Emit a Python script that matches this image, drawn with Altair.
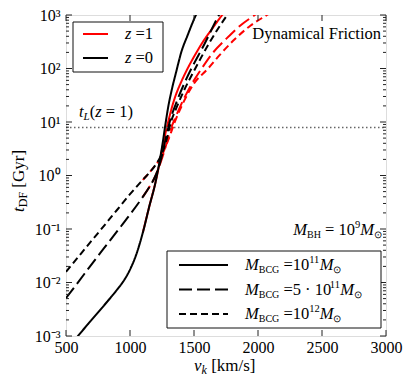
import altair as alt
import pandas as pd

# ---------------- data ----------------
# z = 0 (black)
v_z0_1e11 = [560, 594, 700, 800, 900, 950, 1000, 1050, 1100, 1150, 1200, 1230, 1260, 1275, 1300, 1330, 1360, 1400, 1450, 1515, 1540]
t_z0_1e11 = [7.9e-4, 1.0e-3, 2.0e-3, 3.8e-3, 7.4e-3, 1.07e-2, 1.74e-2, 3.39e-2, 8.5e-2, 0.26, 0.76, 1.78, 4.8, 8.5, 20, 43.7, 85, 200, 417, 1000, 1320]

v_z0_5e11 = [500, 600, 700, 800, 900, 1000, 1100, 1150, 1200, 1240, 1280, 1310, 1360, 1420, 1480, 1580, 1695, 1730]
t_z0_5e11 = [5.1e-3, 1.05e-2, 2.19e-2, 4.47e-2, 9.1e-2, 0.186, 0.398, 0.603, 1.0, 1.9, 5.0, 10, 22.4, 50, 100, 282, 1000, 1413]

v_z0_1e12 = [500, 600, 700, 800, 900, 1000, 1100, 1150, 1200, 1240, 1280, 1320, 1360, 1420, 1510, 1620, 1760, 1800]
t_z0_1e12 = [1.58e-2, 3.09e-2, 6.03e-2, 0.117, 0.229, 0.447, 0.83, 1.12, 1.58, 2.29, 4.17, 10, 17.8, 38, 100, 302, 1000, 1349]

# z = 1 (red)
v_z1_1e11 = [1100, 1150, 1200, 1230, 1260, 1300, 1350, 1400, 1450, 1500, 1570, 1650, 1720, 1760]
t_z1_1e11 = [0.085, 0.26, 0.76, 1.66, 3.98, 10.5, 28.2, 56.2, 100, 166, 316, 589, 1000, 1318]

v_z1_5e11 = [1100, 1150, 1200, 1240, 1280, 1320, 1340, 1400, 1480, 1560, 1650, 1750, 1860, 1975, 2010]
t_z1_5e11 = [0.398, 0.603, 1.0, 1.78, 3.55, 7.59, 10, 21.4, 50.1, 100, 200, 355, 631, 1000, 1148]

v_z1_1e12 = [1100, 1150, 1200, 1240, 1280, 1320, 1350, 1420, 1500, 1610, 1700, 1820, 1940, 2070, 2110]
t_z1_1e12 = [0.83, 1.12, 1.58, 2.14, 3.55, 6.31, 10, 24, 52.5, 100, 178, 355, 631, 1000, 1148]

t_lookback = 7.9  # t_L(z=1) in Gyr

x_ticks = [500, 1000, 1500, 2000, 2500, 3000]
y_ticks = [1e-3, 1e-2, 1e-1, 1e0, 1e1, 1e2, 1e3]
y_minor = [m * 10.0 ** k for k in range(-3, 3) for m in range(2, 10)]

# ---------------- layout ----------------
W, H = 320, 321
FONT = "Liberation Serif"
RED, BLACK = "#ff0000", "#000000"
DASH = {"1e11": [1, 0], "5e11": [13, 5], "1e12": [7, 4]}

xscale = alt.Scale(domain=[500, 3000], nice=False, zero=False)
yscale = alt.Scale(type="log", domain=[1e-3, 1e3], nice=False)
xaxis = alt.Axis(values=x_ticks, title=None, grid=False, ticks=False, domain=False, format="d",
                 labelFont=FONT, labelFontSize=16, labelColor="black", labelPadding=3,
                 labelFlush=False)
yaxis = alt.Axis(values=y_ticks, title=None, grid=False, ticks=False, domain=False,
                 labelFont=FONT, labelFontSize=16, labelColor="black", labelPadding=6,
                 labelFlush=False,
                 labelExpr="datum.value > 500 ? '10³' : datum.value > 50 ? '10²' : datum.value > 5 ? '10¹' : "
                           "datum.value > 0.5 ? '10⁰' : datum.value > 0.05 ? '10⁻¹' : datum.value > 0.005 ? '10⁻²' : '10⁻³'")

X = lambda f: alt.X(f, type="quantitative", scale=xscale, axis=xaxis)
Y = lambda f: alt.Y(f, type="quantitative", scale=yscale, axis=yaxis)

def curve(v, t, color, dash):
    df = pd.DataFrame({"v": v, "t": t})
    return alt.Chart(df).mark_line(color=color, strokeWidth=2, strokeDash=dash, clip=True,
                                   interpolate="monotone").encode(x=X("v"), y=Y("t"))

layers = []
# red first, black on top
layers += [curve(v_z1_1e11, t_z1_1e11, RED, DASH["1e11"]),
           curve(v_z1_5e11, t_z1_5e11, RED, DASH["5e11"]),
           curve(v_z1_1e12, t_z1_1e12, RED, DASH["1e12"]),
           curve(v_z0_1e11, t_z0_1e11, BLACK, DASH["1e11"]),
           curve(v_z0_5e11, t_z0_5e11, BLACK, DASH["5e11"]),
           curve(v_z0_1e12, t_z0_1e12, BLACK, DASH["1e12"])]

# lookback-time line
layers.append(alt.Chart(pd.DataFrame({"t": [t_lookback]})).mark_rule(
    color="#666", strokeWidth=1.3, strokeDash=[1.5, 2.5]).encode(
    y=Y("t"), x=alt.value(0), x2=alt.value(W)))

# inward ticks
xt = pd.DataFrame({"v": x_ticks})
yt = pd.DataFrame({"t": y_ticks})
ym = pd.DataFrame({"t": y_minor})
tick_style = dict(color="#222", strokeWidth=1)
layers += [
    alt.Chart(xt).mark_rule(**tick_style).encode(x=X("v"), y=alt.value(H), y2=alt.value(H - 6)),
    alt.Chart(xt).mark_rule(**tick_style).encode(x=X("v"), y=alt.value(0), y2=alt.value(6)),
    alt.Chart(yt).mark_rule(**tick_style).encode(y=Y("t"), x=alt.value(0), x2=alt.value(6)),
    alt.Chart(yt).mark_rule(**tick_style).encode(y=Y("t"), x=alt.value(W), x2=alt.value(W - 6)),
    alt.Chart(ym).mark_rule(**tick_style).encode(y=Y("t"), x=alt.value(0), x2=alt.value(3)),
    alt.Chart(ym).mark_rule(**tick_style).encode(y=Y("t"), x=alt.value(W), x2=alt.value(W - 3)),
]

ONE = pd.DataFrame({"k": [0]})

# Times-like advance widths (per 1000 em)
REG = {" ": 250, "=": 564, "·": 250, "[": 333, "]": 333, "(": 333, ")": 333, "/": 278, "⊙": 800,
       "A": 722, "B": 667, "C": 667, "D": 722, "E": 611, "F": 556, "G": 722, "H": 722, "I": 333,
       "M": 889, "a": 444, "b": 500, "c": 444, "d": 500, "e": 444, "f": 333, "g": 500, "h": 500,
       "i": 278, "j": 278, "k": 500, "l": 278, "m": 778, "n": 500, "o": 500, "p": 500, "q": 500,
       "r": 333, "s": 389, "t": 278, "u": 500, "v": 500, "w": 722, "x": 500, "y": 500, "z": 444}
ITA = {"M": 833, "t": 278, "v": 444, "k": 444, "z": 389, "L": 556}

def width(s, size, italic):
    tab = ITA if italic else REG
    return sum(tab.get(c, REG.get(c, 500)) for c in s) * size / 1000.0

def txt(s, x, y, size=16, italic=False, align="left", angle=0):
    return alt.Chart(ONE).mark_text(text=s, font=FONT, fontSize=size, color="black",
                                    fontStyle="italic" if italic else "normal",
                                    align=align, baseline="alphabetic", angle=angle).encode(
        x=alt.value(x), y=alt.value(y))

def rich(pieces, x, y, align="left", vertical=False):
    total = sum(width(s, sz, it) for s, sz, it, _ in pieces)
    out = []
    pos = y if vertical else (x - total if align == "right" else x)
    for s, sz, it, sh in pieces:
        lead = len(s) - len(s.lstrip(" "))
        adv0 = width(" " * lead, sz, False)
        core = s.lstrip(" ")
        if vertical:
            pos -= adv0
            out.append(txt(core, x + sh, pos, sz, it, angle=270))
            pos -= width(core, sz, it)
        else:
            pos += adv0
            out.append(txt(core, pos, y + sh, sz, it))
            pos += width(core, sz, it)
    return out

# legend boxes
def box(x1, y1, x2, y2):
    return alt.Chart(ONE).mark_rect(fill="white", stroke="#111", strokeWidth=1).encode(
        x=alt.value(x1), x2=alt.value(x2), y=alt.value(y1), y2=alt.value(y2))

def sample(x1, x2, y, color, dash):
    return alt.Chart(ONE).mark_rule(color=color, strokeWidth=2, strokeDash=dash).encode(
        x=alt.value(x1), x2=alt.value(x2), y=alt.value(y))

layers.append(box(7, 7, 97, 57))
layers.append(sample(17, 42, 19, RED, DASH["1e11"]))
layers.append(sample(17, 42, 43, BLACK, DASH["1e11"]))
layers += rich([("z", 16.5, True, 0), (" =1", 16.5, False, 0)], 59, 24)
layers += rich([("z", 16.5, True, 0), (" =0", 16.5, False, 0)], 59, 48)

layers.append(box(101, 236, 315, 313))
mbcg_rows = [("1e11", " =10", "11"), ("5e11", " =5 · 10", "11"), ("1e12", " =10", "12")]
for i, (key, mid, exp) in enumerate(mbcg_rows):
    yc = 250 + i * 24.5
    layers.append(sample(113, 162, yc, BLACK, DASH[key]))
    layers += rich([("M", 16.5, True, 0), ("BCG", 10, False, 3), (mid, 16.5, False, 0),
                    (exp, 10.5, False, -7), ("M", 16.5, True, 0), ("⊙", 10, False, 3)], 179, yc + 5)

# annotations
layers += rich([("Dynamical Friction", 16.5, False, 0)], 315, 24, align="right")
layers += rich([("t", 16.5, True, 0), ("L", 11, True, 3), ("(", 16.5, False, 0), ("z", 16.5, True, 0),
                (" = 1)", 16.5, False, 0)], 13, 102)
layers += rich([("M", 16.5, True, 0), ("BH", 10, False, 3), (" = 10", 16.5, False, 0), ("9", 10.5, False, -7),
                ("M", 16.5, True, 0), ("⊙", 10, False, 3)], 316, 220, align="right")

# axis titles
layers += rich([("v", 17, True, 0), ("k", 12, True, 3), (" [km/s]", 17, False, 0)], 128, 356)
layers += rich([("t", 17, True, 0), ("DF", 12, False, 3), (" [Gyr]", 17, False, 0)], -42, 197, vertical=True)

chart = alt.layer(*layers).properties(
    width=W, height=H,
    autosize=alt.AutoSizeParams(type="none"),
    padding={"left": 58, "top": 7, "right": 17, "bottom": 42},
).configure_view(stroke="#222", strokeWidth=1.2).configure(background="white")

chart.save("out.html", embed_options={"renderer": "svg", "actions": False})
